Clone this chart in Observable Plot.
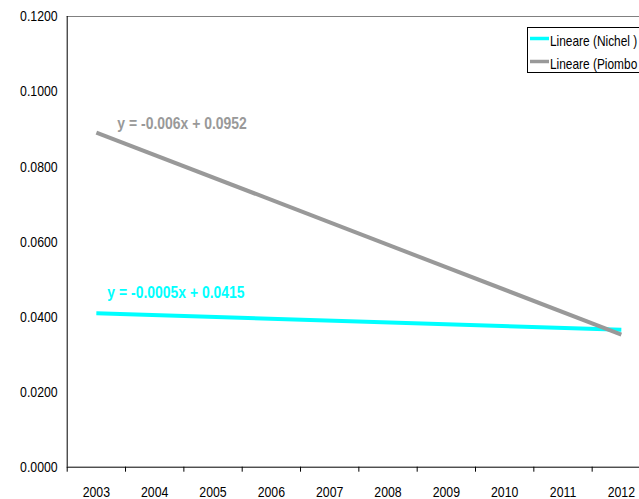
<!DOCTYPE html>
<html><head><meta charset="utf-8">
<script src="https://cdn.jsdelivr.net/npm/d3@7"></script>
<script src="https://cdn.jsdelivr.net/npm/@observablehq/plot@0.6"></script>
<style>
body{margin:0;background:#fff;}
#wrap{position:relative;width:639px;height:499px;overflow:hidden;}
#wrap svg{position:absolute;left:0;top:0;}
</style></head><body><div id="wrap"></div>
<script>
const FONT = '"Liberation Sans Narrow","Arial Narrow","Liberation Sans",Arial,sans-serif';
const years = [2003, 2004, 2005, 2006, 2007, 2008, 2009, 2010, 2011, 2012];
const trendYears = [2003, 2012];
const nichel = [0.0410, 0.0366];
const piombo = [0.0891, 0.0353];
const seriesNames = ["Lineare (Nichel )", "Lineare (Piombo"];
const equations = ["y = -0.0005x + 0.0415", "y = -0.006x + 0.0952"];
const yTicks = [0, 0.02, 0.04, 0.06, 0.08, 0.10, 0.12];
const colors = ["#00FFFF", "#999999"];

const data = [];
trendYears.forEach((yr, i) => {
  data.push({year: yr, value: nichel[i], series: seriesNames[0]});
  data.push({year: yr, value: piombo[i], series: seriesNames[1]});
});
const labels = [
  {year: trendYears[0], value: nichel[0], text: equations[0], series: seriesNames[0]},
  {year: trendYears[0], value: piombo[0], text: equations[1], series: seriesNames[1]}
];
const boundaries = years.map(y => y - 0.5).concat([years[years.length - 1] + 0.5]);

const chart = Plot.plot({
  width: 639, height: 499,
  marginLeft: 66.7, marginRight: 0, marginTop: 16, marginBottom: 32.3,
  x: {type: "linear", domain: [years[0] - 0.5, years[years.length - 1] + 0.5], range: [66.7, 650]},
  y: {domain: [0, 0.12], range: [466.7, 16]},
  color: {domain: seriesNames, range: colors},
  style: {fontFamily: FONT, fontSize: "15px", color: "#000", background: "transparent", overflow: "visible"},
  marks: [
    Plot.ruleY([0.12], {stroke: "#808080", strokeWidth: 1}),
    Plot.axisY({ticks: yTicks, tickFormat: d3.format(".4f"), tickSize: 0, tickPadding: 9.5, label: null, fontSize: 15}),
    Plot.axisX({ticks: boundaries, tickSize: 5, tickFormat: () => "", label: null, stroke: "#000", strokeOpacity: 1}),
    Plot.axisX({ticks: years, tickSize: 0, tickPadding: 19, tickFormat: d => String(d), label: null, fontSize: 15}),
    Plot.line(data, {x: "year", y: "value", z: "series", stroke: "series", strokeWidth: 4, strokeLinecap: "butt"}),
    Plot.text([labels[0]], {x: "year", y: "value", text: "text", fill: "series", textAnchor: "start", dx: 11, dy: -21, fontWeight: "bold", fontSize: 17}),
    Plot.text([labels[1]], {x: "year", y: "value", text: "text", fill: "series", textAnchor: "start", dx: 21, dy: -9.3, fontWeight: "bold", fontSize: 17}),
    Plot.ruleX([years[0] - 0.5], {stroke: "#000", strokeWidth: 1}),
    Plot.ruleY([0], {stroke: "#000", strokeWidth: 1})
  ]
});
const wrap = document.getElementById("wrap");
wrap.appendChild(chart);

// Legend
const color = chart.scale("color");
const leg = d3.select(wrap).append("svg").attr("width", 639).attr("height", 499)
  .style("pointer-events", "none").style("font-family", FONT);
leg.append("rect").attr("x", 527.5).attr("y", 27.5).attr("width", 130).attr("height", 45)
  .attr("fill", "#fff").attr("stroke", "#000").attr("stroke-width", 1);
seriesNames.forEach((name, i) => {
  const cy = 38.5 + i * 23;
  leg.append("line").attr("x1", 530).attr("x2", 549).attr("y1", cy).attr("y2", cy)
    .attr("stroke", color.apply(name)).attr("stroke-width", 3.5);
  leg.append("text").attr("x", 550).attr("y", 46 + i * 23).attr("font-size", 14.5)
    .attr("fill", "#000").text(name);
});

// Emulate a narrow face (Arial Narrow ≈ 0.82 × Arial width) when it is not installed
const narrowOK = document.fonts && document.fonts.check('15px "Liberation Sans Narrow"') &&
  (() => { const c = document.createElement("canvas").getContext("2d");
    c.font = '15px "Liberation Sans Narrow", monospace'; const a = c.measureText("0.1200").width;
    c.font = '15px "Liberation Sans", monospace'; const b = c.measureText("0.1200").width; return a < b * 0.9; })();
if (!narrowOK) {
  wrap.querySelectorAll("text").forEach(t => {
    const w = t.getComputedTextLength();
    if (w > 0) {
      t.setAttribute("textLength", (w * 0.82).toFixed(2));
      t.setAttribute("lengthAdjust", "spacingAndGlyphs");
    }
  });
}
</script></body></html>
